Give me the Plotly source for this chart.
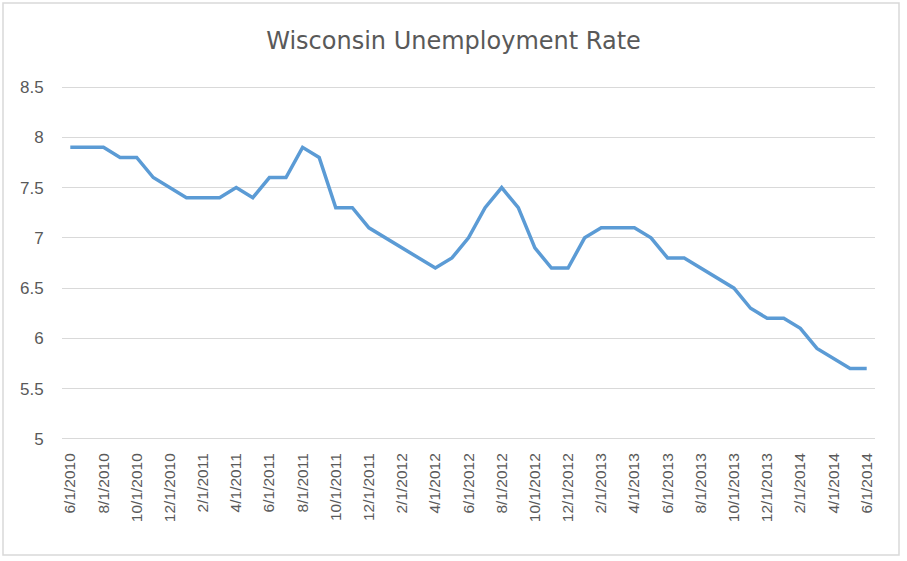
import plotly.graph_objects as go

dates = ["6/1/2010","7/1/2010","8/1/2010","9/1/2010","10/1/2010","11/1/2010","12/1/2010",
         "1/1/2011","2/1/2011","3/1/2011","4/1/2011","5/1/2011","6/1/2011","7/1/2011","8/1/2011",
         "9/1/2011","10/1/2011","11/1/2011","12/1/2011",
         "1/1/2012","2/1/2012","3/1/2012","4/1/2012","5/1/2012","6/1/2012","7/1/2012","8/1/2012",
         "9/1/2012","10/1/2012","11/1/2012","12/1/2012",
         "1/1/2013","2/1/2013","3/1/2013","4/1/2013","5/1/2013","6/1/2013","7/1/2013","8/1/2013",
         "9/1/2013","10/1/2013","11/1/2013","12/1/2013",
         "1/1/2014","2/1/2014","3/1/2014","4/1/2014","5/1/2014","6/1/2014"]
rates = [7.9,7.9,7.9,7.8,7.8,7.6,7.5,
         7.4,7.4,7.4,7.5,7.4,7.6,7.6,7.9,
         7.8,7.3,7.3,7.1,
         7.0,6.9,6.8,6.7,6.8,7.0,7.3,7.5,
         7.3,6.9,6.7,6.7,
         7.0,7.1,7.1,7.1,7.0,6.8,6.8,6.7,
         6.6,6.5,6.3,6.2,
         6.2,6.1,5.9,5.8,5.7,5.7]
tick_labels = dates[::2]
y_ticks = [5, 5.5, 6, 6.5, 7, 7.5, 8, 8.5]
y_ticktext = ["5", "5.5", "6", "6.5", "7", "7.5", "8", "8.5"]

FONT = "Liberation Sans, Arial, sans-serif"
TITLE_FONT = "DejaVu Sans, sans-serif"
GRAY = "#595959"

fig = go.Figure()
fig.add_trace(go.Scatter(
    x=dates, y=rates, mode="lines",
    line=dict(color="#5B9BD5", width=3.5),
    showlegend=False, hoverinfo="skip",
))

W, H = 907, 561
L, R, T, B = 62, 32, 85, 120
pw, ph = W - L - R, H - T - B

def px_x(p):
    return (p - L) / pw

def px_y(p):
    return (H - B - p) / ph

fig.add_shape(type="rect", xref="paper", yref="paper",
              x0=px_x(3), x1=px_x(899), y0=px_y(555), y1=px_y(3),
              line=dict(color="#d9d9d9", width=1.5), fillcolor="rgba(0,0,0,0)",
              layer="below")

fig.update_layout(
    width=W, height=H,
    margin=dict(l=L, r=R, t=T, b=B),
    paper_bgcolor="white", plot_bgcolor="white",
    font=dict(family=FONT, color=GRAY, size=16),
    title=dict(text="Wisconsin Unemployment Rate", x=0.5, xanchor="center",
               y=1 - 41 / H, yanchor="middle",
               font=dict(size=24, color=GRAY, family=TITLE_FONT)),
)
fig.update_xaxes(
    type="category", range=[-0.5, len(dates) - 0.5],
    tickmode="array", tickvals=tick_labels, ticktext=tick_labels,
    tickangle=-90, showgrid=False, showline=False, zeroline=False,
    ticks="outside", ticklen=5, tickcolor="rgba(0,0,0,0)",
    tickfont=dict(size=15.5, color=GRAY, family=FONT),
)
fig.update_yaxes(
    range=[4.98, 8.52], tickmode="array", tickvals=y_ticks, ticktext=y_ticktext,
    showgrid=True, gridcolor="#d9d9d9", gridwidth=1, zeroline=False, showline=False,
    ticks="outside", ticklen=14, tickcolor="rgba(0,0,0,0)",
    tickfont=dict(size=17, color=GRAY, family=FONT),
)

fig.write_html("out.html", config={"displayModeBar": False},
               post_script="document.body.style.margin='0';")
